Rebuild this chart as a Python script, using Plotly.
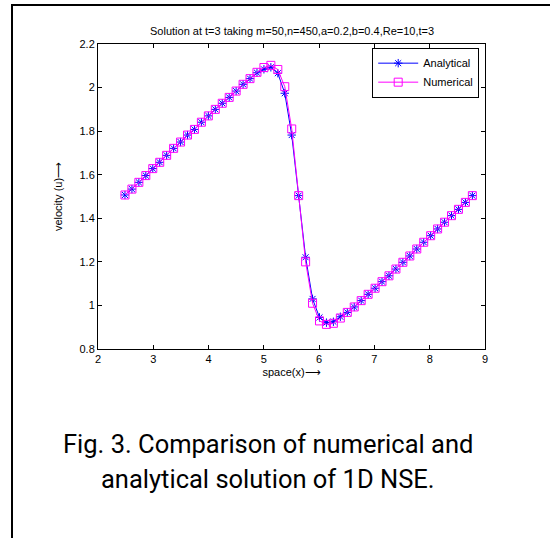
import numpy as np
import plotly.graph_objects as go

# grid: 51 nodes over one period of length 2*pi
x0 = 2.488
n_nodes = 51
space_x = x0 + np.arange(n_nodes) * (2 * np.pi / 50)

u_analytical = [
    1.507, 1.534, 1.565, 1.596, 1.628, 1.657, 1.689, 1.721, 1.750, 1.782,
    1.808, 1.841, 1.870, 1.900, 1.928, 1.955, 1.984, 2.015, 2.041, 2.068,
    2.084, 2.093, 2.066, 1.974, 1.782, 1.504, 1.221, 1.030, 0.945, 0.921,
    0.925, 0.948, 0.968, 0.993, 1.022, 1.051, 1.079, 1.109, 1.136, 1.167,
    1.198, 1.227, 1.259, 1.290, 1.320, 1.351, 1.382, 1.412, 1.441, 1.473,
    1.504,
]

u_numerical = [
    1.507, 1.534, 1.565, 1.596, 1.628, 1.657, 1.689, 1.721, 1.750, 1.782,
    1.808, 1.841, 1.870, 1.900, 1.928, 1.955, 1.984, 2.015, 2.041, 2.070,
    2.092, 2.102, 2.083, 2.004, 1.810, 1.504, 1.200, 1.010, 0.929, 0.913,
    0.918, 0.942, 0.968, 0.993, 1.022, 1.051, 1.079, 1.109, 1.136, 1.167,
    1.198, 1.227, 1.259, 1.290, 1.320, 1.351, 1.382, 1.412, 1.441, 1.473,
    1.504,
]

x_ticks = [2, 3, 4, 5, 6, 7, 8, 9]
y_ticks = [0.8, 1, 1.2, 1.4, 1.6, 1.8, 2, 2.2]
y_ticklabels = ["0.8", "1", "1.2", "1.4", "1.6", "1.8", "2", "2.2"]

W, H = 550, 538
ML, MR, MT, MB = 98, 65, 44, 189
PW = W - ML - MR
PH = H - MT - MB


def px_to_paper_x(px):
    return (px - ML) / PW


def px_to_paper_y(py):
    return (H - MB - py) / PH


fig = go.Figure()

fig.add_trace(go.Scatter(
    x=space_x, y=u_analytical, name="Analytical", mode="lines+markers",
    line=dict(color="#0000FF", width=1),
    marker=dict(symbol="asterisk-open", size=7,
                line=dict(color="#0000FF", width=1)),
))
fig.add_trace(go.Scatter(
    x=space_x, y=u_numerical, name="Numerical", mode="lines+markers",
    line=dict(color="#FF00FF", width=1),
    marker=dict(symbol="square-open", size=8, color="#FF00FF",
                line=dict(color="#FF00FF", width=1)),
))

axis_font = dict(family="Liberation Sans, Arial, sans-serif", size=11, color="black")

fig.update_layout(
    width=W, height=H,
    margin=dict(l=ML, r=MR, t=MT, b=MB, pad=0),
    paper_bgcolor="white", plot_bgcolor="white",
    font=axis_font,
    showlegend=True,
    legend=dict(
        x=0.985, y=0.988, xanchor="right", yanchor="top",
        bgcolor="white", bordercolor="black", borderwidth=1,
        font=dict(family="Liberation Sans, Arial, sans-serif", size=11, color="black"),
        tracegroupgap=0, itemwidth=40,
    ),
    xaxis=dict(
        range=[2, 9], tickvals=x_ticks, ticktext=[str(t) for t in x_ticks],
        showgrid=False, zeroline=False, showline=True, linecolor="black",
        linewidth=1, mirror="ticks", ticks="inside", ticklen=4,
        tickcolor="black", tickfont=axis_font,
        title=dict(text="space(x)⟶", font=axis_font, standoff=4),
    ),
    yaxis=dict(
        range=[0.8, 2.2], tickvals=y_ticks, ticktext=y_ticklabels,
        showgrid=False, zeroline=False, showline=True, linecolor="black",
        linewidth=1, mirror="ticks", ticks="inside", ticklen=4,
        tickcolor="black", tickfont=axis_font,
        title=dict(text="velocity (u)⟶", font=axis_font, standoff=14),
    ),
)

# title above the axes box
fig.add_annotation(
    text="Solution at t=3 taking m=50,n=450,a=0.2,b=0.4,Re=10,t=3",
    xref="paper", yref="paper", x=0.5, y=px_to_paper_y(31),
    xanchor="center", yanchor="middle", showarrow=False,
    font=dict(family="Liberation Sans, Arial, sans-serif", size=11, color="black"),
)

# figure caption
cap_font = dict(family="Roboto, sans-serif", size=25.5, color="black")
fig.add_annotation(
    text="Fig. 3. Comparison of numerical and",
    xref="paper", yref="paper", x=px_to_paper_x(268), y=px_to_paper_y(444),
    xanchor="center", yanchor="middle", showarrow=False, font=cap_font,
)
fig.add_annotation(
    text="analytical solution of 1D NSE.",
    xref="paper", yref="paper", x=px_to_paper_x(268), y=px_to_paper_y(479),
    xanchor="center", yanchor="middle", showarrow=False, font=cap_font,
)

# outer frame: top and left edges
frame = dict(color="black", width=2)
fig.add_shape(type="line", xref="paper", yref="paper",
              x0=px_to_paper_x(12), x1=px_to_paper_x(W + 2),
              y0=px_to_paper_y(5), y1=px_to_paper_y(5), line=frame)
fig.add_shape(type="line", xref="paper", yref="paper",
              x0=px_to_paper_x(12), x1=px_to_paper_x(12),
              y0=px_to_paper_y(4), y1=px_to_paper_y(H + 2), line=frame)

fig.write_html("out.html")
